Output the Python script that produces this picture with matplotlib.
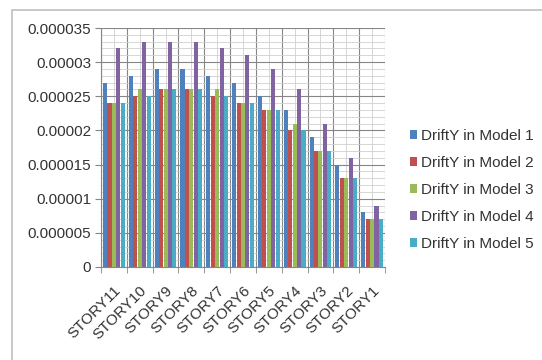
import matplotlib
matplotlib.use("Agg")
import matplotlib.pyplot as plt
import numpy as np
from matplotlib.patches import Rectangle
from matplotlib.ticker import MultipleLocator, FixedLocator
from matplotlib.transforms import ScaledTranslation

plt.rcParams['font.family'] = ['Liberation Sans', 'DejaVu Sans']

categories = ["STORY11", "STORY10", "STORY9", "STORY8", "STORY7", "STORY6",
              "STORY5", "STORY4", "STORY3", "STORY2", "STORY1"]
series_names = ["DriftY in Model 1", "DriftY in Model 2", "DriftY in Model 3",
                "DriftY in Model 4", "DriftY in Model 5"]
model1 = [0.000027, 0.000028, 0.000029, 0.000029, 0.000028, 0.000027, 0.000025, 0.000023, 0.000019, 0.000015, 0.000008]
model2 = [0.000024, 0.000025, 0.000026, 0.000026, 0.000025, 0.000024, 0.000023, 0.000020, 0.000017, 0.000013, 0.000007]
model3 = [0.000024, 0.000026, 0.000026, 0.000026, 0.000026, 0.000024, 0.000023, 0.000021, 0.000017, 0.000013, 0.000007]
model4 = [0.000032, 0.000033, 0.000033, 0.000033, 0.000032, 0.000031, 0.000029, 0.000026, 0.000021, 0.000016, 0.000009]
model5 = [0.000024, 0.000025, 0.000026, 0.000026, 0.000025, 0.000024, 0.000023, 0.000020, 0.000017, 0.000013, 0.000007]
series = [model1, model2, model3, model4, model5]
colors = ["#4F81BD", "#C0504D", "#9BBB59", "#8064A2", "#4BACC6"]
yticks = [0, 0.000005, 0.00001, 0.000015, 0.00002, 0.000025, 0.00003, 0.000035]
ytick_labels = ["0", "0.000005", "0.00001", "0.000015", "0.00002", "0.000025", "0.00003", "0.000035"]

fig = plt.figure(figsize=(5.42, 3.6), dpi=100)
fig.patch.set_facecolor("white")
fig.patches.append(Rectangle((12/542, -0.02), 1.1, (360-10)/360 + 0.02,
                             transform=fig.transFigure, fill=False,
                             edgecolor="#BFBFBF", linewidth=1.2, zorder=0))

ax = fig.add_axes([101/542, (360-267)/360, (385-101)/542, (267-28)/360])
n = len(categories)
x = np.arange(n)
group_w = 0.86
bw = group_w / len(series)
for i, (vals, c, name) in enumerate(zip(series, colors, series_names)):
    ax.bar(x - group_w/2 + bw*(i+0.5), vals, width=bw*0.92, color=c, label=name, zorder=3)

ax.set_xlim(-0.5, n-0.5)
ax.set_ylim(0, 0.000035)
ax.set_yticks(yticks)
ax.set_yticklabels(ytick_labels)
ax.yaxis.set_minor_locator(MultipleLocator(0.000001))
ax.set_xticks(x)
ax.set_xticklabels(categories, rotation=45, ha="right", rotation_mode="anchor")
ax.xaxis.set_minor_locator(FixedLocator(np.arange(-0.5, n, 1.0)))
shift = ScaledTranslation(0.06, 0.0, fig.dpi_scale_trans)
for lbl in ax.get_xticklabels():
    lbl.set_transform(lbl.get_transform() + shift)

ax.grid(True, which="major", axis="y", color="#868686", linewidth=0.8, zorder=1)
ax.grid(True, which="minor", axis="y", color="#D0D0D0", linewidth=0.6, zorder=1)
ax.grid(True, which="minor", axis="x", color="#868686", linewidth=0.8, zorder=1)
ax.grid(True, which="major", axis="x", color="#D0D0D0", linewidth=0.6, zorder=1)
ax.set_axisbelow(True)

for s in ["top", "right"]:
    ax.spines[s].set_visible(False)
ax.spines["left"].set_color("#868686")
ax.spines["bottom"].set_color("#868686")
ax.tick_params(axis="y", which="major", length=4, color="#868686", labelsize=11, labelcolor="#333333", pad=3)
ax.tick_params(axis="y", which="minor", length=0)
ax.tick_params(axis="x", which="major", length=0, labelsize=11, labelcolor="#333333", pad=12)
ax.tick_params(axis="x", which="minor", length=4, color="#868686")

leg = fig.legend(loc="center left", bbox_to_anchor=(396/542, (360-190)/360), frameon=False,
                 fontsize=11, handlelength=0.45, handleheight=0.45, handletextpad=0.3,
                 labelspacing=0.85, labelcolor="#333333")

fig.savefig("out.png", dpi=100, facecolor="white")
